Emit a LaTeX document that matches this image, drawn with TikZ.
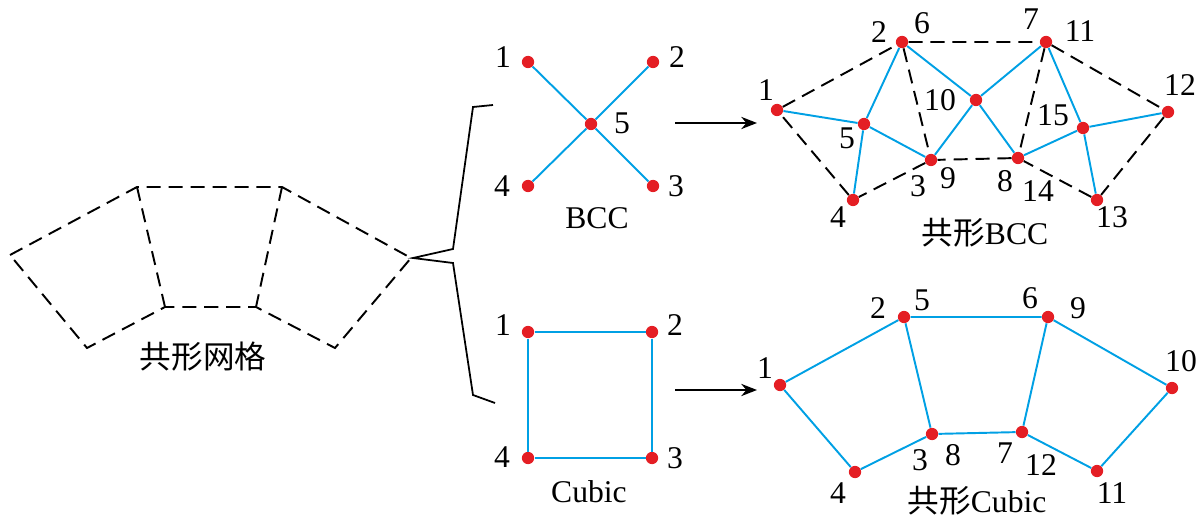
\documentclass[tikz,border=0pt]{standalone}
\usepackage{fontspec}
\setmainfont{Liberation Serif}
\newfontfamily\cjk{Noto Sans CJK SC}
\usepackage{tikz}
\usetikzlibrary{arrows.meta}
\definecolor{dotred}{RGB}{228,30,36}
\definecolor{barblue}{RGB}{0,160,228}

\begin{document}
\begin{tikzpicture}[x=0.02cm,y=-0.02cm,
  every node/.style={font=\fontsize{18}{20}\selectfont},
  pt/.style={circle,fill=dotred,inner sep=0pt,minimum size=7pt},
  bar/.style={barblue,line width=1.1pt},
  dsh/.style={black,line width=1.1pt,dash pattern=on 8pt off 4.5pt},
  num/.style={inner sep=0pt},
  tip/.style={-{Stealth[length=9pt,width=7pt]},line width=0.9pt}]
\useasboundingbox (0,0) rectangle (1200,520);
% conformal mesh
\foreach \n/\x/\y in {a/10/255,b/137/187,c/282/187,d/411/258,e/335/348,f/256/307,g/165/307,h/87/348}
\coordinate (m\n) at (\x,\y);
\draw[dsh] (ma) -- (mb) -- (mc) -- (md) -- (me) -- (mf) -- (mg) -- (mh) -- cycle;
\draw[dsh] (mb) -- (mg) (mc) -- (mf);
\node (meshname) at (203,357) {\cjk 共形网格};
% brace
\foreach \n/\x/\y in {1/493/105,2/473/107,3/453/249,4/413/258,5/453/263,6/473/395,7/495/403}
\coordinate (br\n) at (\x,\y);
\draw[line width=1pt] (br1) -- (br2) -- (br3) -- (br4) -- (br5) -- (br6) -- (br7);
% BCC unit
\foreach \n/\x/\y in {1/528/62,2/653/62,3/653/186,4/528/186,5/591/124}
\node[pt] (s\n) at (\x,\y) {};
\draw[bar] (s1) -- (s5) -- (s3) (s2) -- (s5) -- (s4);
\foreach \n/\x/\y in {1/503/57,2/677/57,3/676/186,4/502/186,5/622/123}
\node[num] (sl\n) at (\x,\y) {\n};
\node (bccname) at (597,218) {BCC};
% Cubic unit
\foreach \n/\x/\y in {1/528/332,2/652/332,3/652/458,4/528/458}
\node[pt] (q\n) at (\x,\y) {};
\draw[bar] (q1) -- (q2) -- (q3) -- (q4) -- (q1);
\foreach \n/\x/\y in {1/503/325,2/675/325,3/675/458,4/502/457}
\node[num] (ql\n) at (\x,\y) {\n};
\node (cubicname) at (589,492) {Cubic};
% arrows
\coordinate (a1) at (675,123);
\coordinate (a2) at (757,123);
\coordinate (a3) at (675,390);
\coordinate (a4) at (757,390);
\draw[tip] (a1) -- (a2);
\draw[tip] (a3) -- (a4);
% conformal BCC
\foreach \n/\x/\y in {1/777/110,2/902/42,7/1046/42,12/1168/112,13/1097/200,8/1018/158,3/931/160,4/853/200,5/864/124,10/976/100,15/1083/128}
\node[pt] (r\n) at (\x,\y) {};
\draw[dsh] (r1) -- (r2) -- (r7) -- (r12) -- (r13) -- (r8) -- (r3) -- (r4) -- (r1);
\draw[dsh] (r2) -- (r3) (r7) -- (r8);
\draw[bar] (r1) -- (r5) -- (r2) (r5) -- (r4) (r5) -- (r3);
\draw[bar] (r2) -- (r10) -- (r3) (r10) -- (r7) (r10) -- (r8);
\draw[bar] (r7) -- (r15) -- (r13) (r15) -- (r12) (r15) -- (r8);
\foreach \n/\x/\y in {1/766/90,2/879/32,6/922/23,7/1031/19,11/1080/31,12/1180/85,10/940/100,15/1053/115,5/847/138,3/918/186,9/948/178,8/1005/181,14/1038/191,4/838/217,13/1112/217}
\node[num] (rl\n) at (\x,\y) {\n};
\node (cbccname) at (985,233) {{\cjk 共形}BCC};
% conformal Cubic
\foreach \n/\x/\y in {1/780/385,2/904/317,6/1048/317,10/1172/388,11/1097/471,7/1022/432,3/932/434,4/855/472}
\node[pt] (c\n) at (\x,\y) {};
\draw[bar] (c1) -- (c2) -- (c6) -- (c10) -- (c11) -- (c7) -- (c3) -- (c4) -- (c1);
\draw[bar] (c2) -- (c3) (c6) -- (c7);
\foreach \n/\x/\y in {1/765/368,2/878/308,5/922/300,6/1030/298,9/1078/308,10/1181/361,3/920/460,8/953/455,7/1005/453,12/1041/465,4/838/493,11/1112/493}
\node[num] (cl\n) at (\x,\y) {\n};
\node (ccubicname) at (977,501) {{\cjk 共形}Cubic};
\end{tikzpicture}
\end{document}
